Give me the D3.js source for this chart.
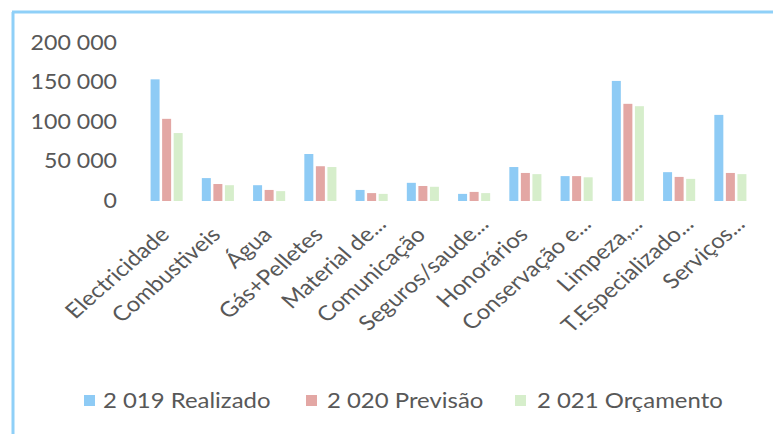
<!DOCTYPE html>
<html><head><meta charset="utf-8">
<script src="https://cdn.jsdelivr.net/npm/d3@7"></script>
<style>body{margin:0;background:#fff}svg{display:block}</style>
</head><body>
<svg id="c" width="773" height="434"></svg>
<script>
const categories = ["Electricidade","Combustiveis","Água","Gás+Pelletes","Material de...","Comunicação","Seguros/saude...","Honorários","Conservação e...","Limpeza,...","T.Especializado...","Serviços..."];
const seriesNames = ["2 019 Realizado","2 020 Previsão","2 021 Orçamento"];
const realizado2019 = [154000, 29000, 20000, 59500, 14000, 23000, 9000, 43000, 31500, 152000, 36500, 109000];
const previsao2020 = [104000, 21500, 14000, 44000, 10000, 19000, 11500, 35500, 31500, 123000, 30500, 35500];
const orcamento2021 = [86000, 20000, 12500, 43000, 9000, 18000, 10000, 34000, 30000, 120000, 28000, 34000];
const yTicks = [0, 50000, 100000, 150000, 200000];
const colors = ["#8ecbf5", "#e3a7a4", "#d6eecb"];

const series = [realizado2019, previsao2020, orcamento2021];
const svg = d3.select("#c");
const font = "Lato, 'Open Sans', sans-serif";
const textColor = "#585858";
const SX = 1.14; // horizontal stretch of text seen in the reference

// frame lines (left and top)
svg.append("line").attr("x1",13).attr("y1",12).attr("x2",13).attr("y2",434).attr("stroke","#8fd0f8").attr("stroke-width",3);
svg.append("line").attr("x1",12).attr("y1",12).attr("x2",773).attr("y2",12).attr("stroke","#8fd0f8").attr("stroke-width",3);

const y = d3.scaleLinear().domain([0,200000]).range([201,43]);
const x0 = d3.scaleBand().domain(categories).range([141,756]).padding(0);
const x1 = d3.scaleBand().domain(d3.range(3)).range([0,x0.bandwidth()]).paddingInner(0.22).paddingOuter(0.83);

const yAxis = d3.axisLeft(y).tickValues(yTicks).tickSize(0).tickPadding(0)
  .tickFormat(d => d3.format(",")(d).replace(/,/g," "));
const gy = svg.append("g").attr("transform","translate(117,0)").call(yAxis);
gy.select(".domain").remove();
gy.selectAll("text").attr("font-family",font).attr("font-size",20.3).attr("fill",textColor)
  .attr("transform",`scale(${SX},1)`);

const g = svg.append("g");
categories.forEach((c,i)=>{
  series.forEach((s,j)=>{
    g.append("rect")
      .attr("x", x0(c)+x1(j))
      .attr("y", y(s[i]))
      .attr("width", x1.bandwidth())
      .attr("height", y(0)-y(s[i]))
      .attr("fill", colors[j]);
  });
});

const xAxis = d3.axisBottom(x0).tickSize(0).tickPadding(0);
const gx = svg.append("g").attr("transform","translate(0,0)").call(xAxis);
gx.select(".domain").remove();
gx.selectAll(".tick").attr("transform", d => `translate(${x0(d)+x0.bandwidth()/2+4},236)`);
gx.selectAll("text")
  .attr("font-family",font).attr("font-size",21).attr("fill",textColor)
  .attr("text-anchor","end").attr("y",0).attr("dy",0)
  .attr("transform",`scale(${SX},1) rotate(-45)`)
  .each(function(d){
    // trailing ellipsis hangs past the anchor point
    if (d.endsWith("...")) {
      const n = d.length;
      const w = this.getSubStringLength(n-3, 3);
      d3.select(this).attr("x", w);
    } else {
      d3.select(this).attr("x", 0);
    }
  });

// legend
const markerX = [84, 306, 515];
const textX = [103, 327, 537];
seriesNames.forEach((n,j)=>{
  svg.append("rect").attr("x",markerX[j]).attr("y",395).attr("width",11).attr("height",11).attr("fill",colors[j]);
  svg.append("text").attr("transform",`translate(${textX[j]},401) scale(${SX},1)`).attr("dy","0.35em")
    .attr("font-family",font).attr("font-size",21).attr("fill",textColor).text(n);
});
</script>
</body></html>
